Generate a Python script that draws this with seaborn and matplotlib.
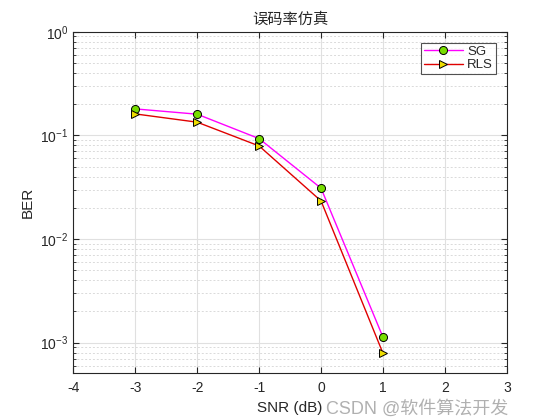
#Semilog BER curves for SG and RLS, styled like a MATLAB figure

import seaborn as sns
import matplotlib.pyplot as plt
import numpy as np
import pandas as pd

snr = [-3, -2, -1, 0, 1]
ber_sg = [0.180, 0.160, 0.093, 0.0309, 0.00113]
ber_rls = [0.161, 0.134, 0.079, 0.0233, 0.00079]
x_ticks = [-4, -3, -2, -1, 0, 1, 2, 3]

sns.set_style('ticks')
plt.rcParams['font.family'] = ['Liberation Sans', 'Noto Sans CJK SC']
plt.rcParams['mathtext.default'] = 'regular'

df_sg = pd.DataFrame({'snr': snr, 'ber': ber_sg})
df_rls = pd.DataFrame({'snr': snr, 'ber': ber_rls})

f = plt.figure(figsize=(5.6, 4.2), dpi=100)
ax = f.add_axes([0.131, 0.112, 0.774, 0.8125])

#Draw each curve separately so marker faces can differ from line colours
sns.lineplot(data=df_sg, x='snr', y='ber', ax=ax, color='#ff00ff', lw=1.0,
             marker='o', markersize=5.8, markerfacecolor='#77dd00',
             markeredgecolor='k', markeredgewidth=0.7, label='SG')
sns.lineplot(data=df_rls, x='snr', y='ber', ax=ax, color='#e00000', lw=1.0,
             marker='>', markersize=6, markerfacecolor='#eedd00',
             markeredgecolor='k', markeredgewidth=0.7, label='RLS')

ax.set_yscale('log')
ax.set_xlim(-4, 3)
ax.set_ylim(5.1e-4, 1)
ax.set_xticks(x_ticks)
ax.set_xticklabels([str(t) for t in x_ticks])

#MATLAB-like grid: solid major lines, dotted minor lines on y only
ax.grid(True, which='major', color='#e0e0e0', lw=0.8, ls='-')
ax.yaxis.grid(True, which='minor', color='#dadada', lw=0.7, ls=(0, (2, 2)))
ax.set_axisbelow(True)

ax.tick_params(which='both', direction='in', top=True, right=True,
               colors='#262626', labelsize=10)
ax.tick_params(axis='x', pad=6)
ax.tick_params(which='major', length=4)
ax.tick_params(which='minor', length=2)
for s in ax.spines.values():
    s.set_color('#262626')
    s.set_linewidth(0.8)

ax.set_xlabel('SNR (dB)', fontsize=11, color='#262626', labelpad=4)
ax.set_ylabel('BER', fontsize=11, color='#262626')
ax.set_title('误码率仿真', fontsize=11, color='#262626',
             family=['Noto Sans CJK SC', 'DejaVu Sans'], pad=6)

leg = ax.legend(loc='upper right', fontsize=9.5, frameon=True, fancybox=False,
                edgecolor='#262626', handlelength=3.0, handletextpad=0.3,
                borderaxespad=0.85, borderpad=0.2, labelspacing=0.1)
leg.get_frame().set_linewidth(0.8)

#Watermark sits below the tick labels, at the lower right
f.text(0.907, 0.006, 'CSDN @软件算法开发', ha='right', va='bottom',
       fontsize=13, color='#a8a8a8', alpha=0.9,
       family=['Liberation Sans', 'Noto Sans CJK SC'])

f.savefig('out.png', dpi=100)
